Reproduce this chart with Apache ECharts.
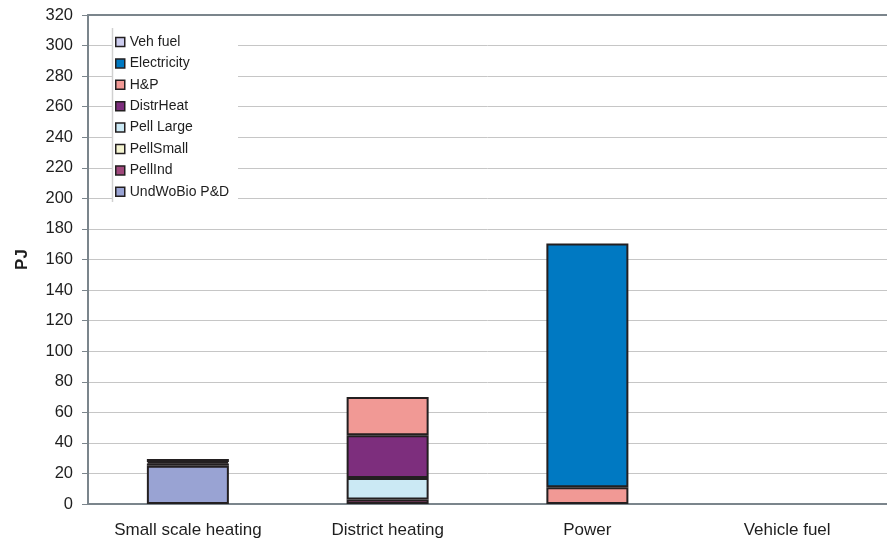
<!DOCTYPE html>
<html>
<head>
<meta charset="utf-8">
<script src="https://cdn.jsdelivr.net/npm/echarts@6/dist/echarts.min.js"></script>
<style>
  html, body { margin: 0; padding: 0; background: #fff; }
  #chart { width: 887px; height: 540px; }
</style>
</head>
<body>
<div id="chart"></div>
<script>
// Bioenergy use by sector (PJ), stacked by supply route
const categories = ['Small scale heating', 'District heating', 'Power', 'Vehicle fuel'];

const undWoBioPD  = [25, 0, 0, 0];
const pellInd     = [1.5, 3, 0, 0];
const pellSmall   = [1, 0, 0, 0];
const pellLarge   = [2, 14, 0, 0];
const distrHeat   = [0, 28, 0, 0];
const hp          = [0, 25, 11, 0];
const electricity = [0, 0, 159.5, 0];
const vehFuel     = [0, 0, 0, 0];

const yTicks = { min: 0, max: 320, interval: 20 };

// bottom-to-top stacking order
const stackSeries = [
  { name: 'UndWoBio P&D', data: undWoBioPD,  color: '#99a3d3' },
  { name: 'PellInd',      data: pellInd,     color: '#a0487c' },
  { name: 'PellSmall',    data: pellSmall,   color: '#f4f4d0' },
  { name: 'Pell Large',   data: pellLarge,   color: '#cbe9f4' },
  { name: 'DistrHeat',    data: distrHeat,   color: '#7d2e7d' },
  { name: 'H&P',          data: hp,          color: '#f19995' },
  { name: 'Electricity',  data: electricity, color: '#0079c2' },
  { name: 'Veh fuel',     data: vehFuel,     color: '#ccccee' }
];

const chart = echarts.init(document.getElementById('chart'), null, { renderer: 'canvas' });

const axisGray = '#7b858c';
const font = 'Liberation Sans, Arial, sans-serif';

chart.setOption({
  animation: false,
  backgroundColor: '#ffffff',
  grid: { left: 88, right: 0, top: 15, bottom: 36 },
  graphic: [
    {
      type: 'rect', z: 90,
      shape: { x: 112, y: 28, width: 126, height: 174 },
      style: { fill: '#ffffff' }
    },
    {
      type: 'line', z: 91,
      shape: { x1: 112.5, y1: 28, x2: 112.5, y2: 202 },
      style: { stroke: '#d0d0d0', lineWidth: 1.5 }
    }
  ],
  legend: {
    orient: 'vertical',
    left: 115, top: 35,
    z: 100,
    padding: 0,
    itemWidth: 9, itemHeight: 9,
    itemGap: 7.4,
    icon: 'rect',
    data: stackSeries.map(s => s.name).reverse(),
    textStyle: { fontFamily: font, fontSize: 14, color: '#1e1e1e', lineHeight: 14, padding: [0, 0, 0, 0] },
    itemStyle: { borderColor: '#231f20', borderWidth: 1.5 }
  },
  xAxis: [
    {
      type: 'category',
      data: categories,
      axisLine: { show: true, lineStyle: { color: axisGray, width: 2 } },
      axisTick: { show: false },
      axisLabel: { fontFamily: font, fontSize: 17, color: '#1e1e1e', margin: 18 },
      splitLine: { show: false }
    },
    {
      // plain frame line along the top of the plot
      type: 'category',
      position: 'top',
      data: categories,
      axisLine: { show: true, lineStyle: { color: axisGray, width: 2 } },
      axisTick: { show: false },
      axisLabel: { show: false },
      splitLine: { show: false }
    }
  ],
  yAxis: {
    type: 'value',
    min: yTicks.min, max: yTicks.max, interval: yTicks.interval,
    name: 'PJ',
    nameLocation: 'middle',
    nameGap: 57,
    nameTextStyle: { fontFamily: font, fontSize: 17, fontWeight: 'bold', color: '#1e1e1e' },
    axisLine: { show: true, lineStyle: { color: axisGray, width: 2 } },
    axisTick: { show: true, length: 6, lineStyle: { color: axisGray, width: 1 } },
    axisLabel: { fontFamily: font, fontSize: 16.5, color: '#1e1e1e', margin: 15 },
    splitLine: { show: true, lineStyle: { color: '#c6c6c6', width: 1 } }
  },
  series: stackSeries.map(s => ({
    name: s.name,
    type: 'bar',
    stack: 'total',
    barWidth: 82,
    // empty segments are skipped so they leave no outline
    data: s.data.map(v => (v === 0 ? '-' : v)),
    itemStyle: { color: s.color, borderColor: '#231f20', borderWidth: 2 }
  }))
});
</script>
</body>
</html>
